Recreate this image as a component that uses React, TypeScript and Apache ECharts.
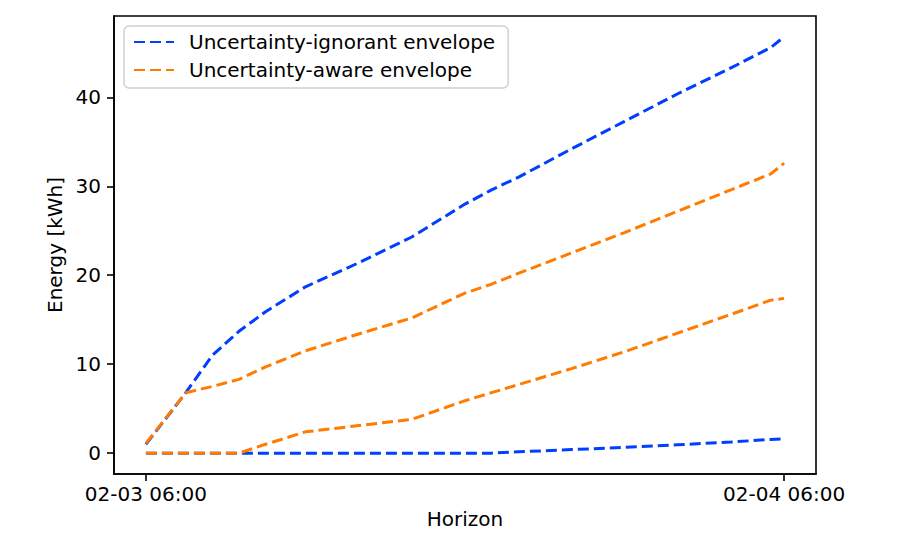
import React, { useEffect, useRef } from "react";
import * as echarts from "echarts";

// Hours after 02-03 06:00
const hours = [0, 1.5, 2.5, 3.5, 4.5, 6, 8, 10, 12, 13, 14, 16, 18, 20, 22, 23.5, 24];
const ignorantUpper = [1.0, 6.8, 11.0, 13.7, 15.9, 18.7, 21.4, 24.3, 28.0, 29.6, 31.0, 34.2, 37.3, 40.4, 43.3, 45.6, 46.8];
const ignorantLower = [0, 0, 0, 0, 0, 0, 0, 0, 0, 0, 0.15, 0.4, 0.65, 0.95, 1.25, 1.55, 1.6];
const awareUpper = [1.1, 6.8, 7.5, 8.3, 9.7, 11.5, 13.4, 15.2, 18.0, 19.0, 20.2, 22.5, 24.8, 27.2, 29.6, 31.4, 32.6];
const awareLower = [0, 0, 0, 0, 1.0, 2.4, 3.1, 3.8, 5.9, 6.8, 7.7, 9.5, 11.4, 13.5, 15.6, 17.2, 17.4];

const xTickValues = [0, 24];
const xTickLabels = ["02-03 06:00", "02-04 06:00"];
const yTickValues = [0, 10, 20, 30, 40];

const seriesNames = ["Uncertainty-ignorant envelope", "Uncertainty-aware envelope"];
const BLUE = "#023eff";
const ORANGE = "#ff7c00";

const FONT = "DejaVu Sans";

function toPairs(vals: number[]) {
  return hours.map((h, i) => [h, vals[i]]);
}

function lineSeries(name: string, color: string, vals: number[]) {
  return {
    type: "line",
    name,
    data: toPairs(vals),
    showSymbol: false,
    symbol: "none",
    lineStyle: { color, width: 3, type: [11, 5] },
    itemStyle: { color },
    z: 3,
  };
}

export default function App() {
  const ref = useRef<HTMLDivElement>(null);
  useEffect(() => {
    document.body.style.margin = "0";
    const chart = echarts.init(ref.current!, null, { renderer: "svg" });
    const ymin = -2.34;
    const ymax = 49.14;
    chart.setOption({
      animation: false,
      backgroundColor: "#fff",
      textStyle: { fontFamily: FONT },
      grid: {
        left: 114,
        right: 92,
        top: 16,
        bottom: 62,
        outerBoundsMode: "none",
        containLabel: false,
        show: true,
        borderColor: "#000",
        borderWidth: 1.6,
        backgroundColor: "transparent",
      },
      legend: {
        left: 124,
        top: 26,
        orient: "vertical",
        data: seriesNames,
        itemWidth: 40,
        itemHeight: 10,
        itemGap: 8,
        padding: [6, 13, 8, 9],
        backgroundColor: "rgba(255,255,255,0.8)",
        borderColor: "#d0d0d0",
        borderWidth: 1.5,
        borderRadius: 5,
        itemStyle: { opacity: 0, color: "transparent", borderColor: "transparent", borderWidth: 0 },
        textStyle: {
          fontFamily: FONT,
          fontSize: 20,
          color: "#000",
          padding: [0, 0, 0, 10],
        },
      },
      xAxis: {
        type: "value",
        min: -1.2,
        max: 25.2,
        name: "Horizon",
        nameLocation: "middle",
        nameGap: 34,
        nameTextStyle: { fontFamily: FONT, fontSize: 20, color: "#000" },
        axisLine: { show: true, onZero: false, lineStyle: { color: "#000", width: 1.6 } },
        axisTick: {
          show: true,
          length: 7,
          customValues: xTickValues,
          lineStyle: { color: "#000", width: 1.6 },
        },
        axisLabel: {
          customValues: xTickValues,
          margin: 10,
          fontFamily: FONT,
          fontSize: 20,
          color: "#000",
          formatter: (v: number) => {
            const i = xTickValues.findIndex((t) => Math.abs(t - v) < 1e-6);
            return i >= 0 ? xTickLabels[i] : "";
          },
        },
        splitLine: { show: false },
      },
      yAxis: {
        type: "value",
        min: ymin,
        max: ymax,
        name: "Energy [kWh]",
        nameLocation: "middle",
        nameGap: 44,
        nameTextStyle: { fontFamily: FONT, fontSize: 20, color: "#000" },
        axisLine: { show: true, onZero: false, lineStyle: { color: "#000", width: 1.6 } },
        axisTick: {
          show: true,
          length: 7,
          customValues: yTickValues,
          lineStyle: { color: "#000", width: 1.6 },
        },
        axisLabel: {
          customValues: yTickValues,
          margin: 13,
          fontFamily: FONT,
          fontSize: 20,
          color: "#000",
          formatter: (v: number) => String(Math.round(v)),
        },
        splitLine: { show: false },
      },
      series: [
        lineSeries(seriesNames[0], BLUE, ignorantUpper),
        lineSeries(seriesNames[0], BLUE, ignorantLower),
        lineSeries(seriesNames[1], ORANGE, awareUpper),
        lineSeries(seriesNames[1], ORANGE, awareLower),
      ],
    });
    return () => chart.dispose();
  }, []);
  return (
    <div
      ref={ref}
      style={{ position: "absolute", left: 0, top: 0, width: 908, height: 536 }}
    />
  );
}
